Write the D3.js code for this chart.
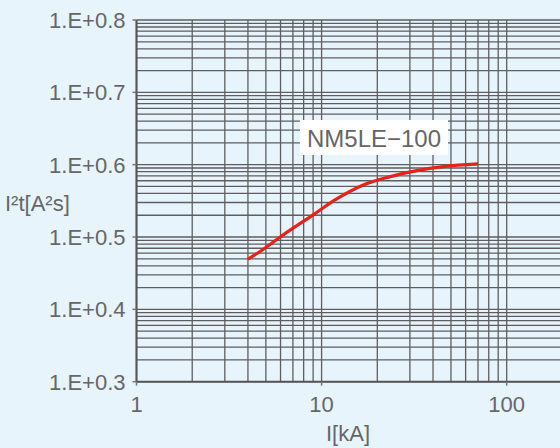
<!DOCTYPE html>
<html>
<head>
<meta charset="utf-8">
<script src="https://cdn.jsdelivr.net/npm/d3@7"></script>
<style>
html,body{margin:0;padding:0;background:#e8f4fc;}
svg{display:block;}
text{font-family:"Liberation Sans",Arial,sans-serif;}
</style>
</head>
<body>
<svg id="chart" width="560" height="448"></svg>
<script>
// Data
const currentKA = [4, 4.85, 6.2, 9, 12, 16.8, 23.5, 32.7, 45.5, 70];
const i2t = [49300, 67800, 106900, 202300, 333400, 524800, 683900, 827900, 941900, 1025600];
const seriesName = "NM5LE\u2212100";
const yTickValues = [1e3, 1e4, 1e5, 1e6, 1e7, 1e8];
const yTickLabels = ["1.E+0.3", "1.E+0.4", "1.E+0.5", "1.E+0.6", "1.E+0.7", "1.E+0.8"];
const xTickValues = [1, 10, 100];
const xTickLabels = ["1", "10", "100"];
const xTitle = "I[kA]";
const yTitle = "I\u00b2t[A\u00b2s]";

(function () {
const svg = d3.select("#chart");
const W = 560, H = 448;
svg.append("rect").attr("width", W).attr("height", H).attr("fill", "#e8f4fc");

const mLeft = 136.5, mRight = 562.4, mTop = 20, mBottom = 381.7;
const x = d3.scaleLog().domain([1, 200]).range([mLeft, mRight]);
const y = d3.scaleLog().domain([1e3, 1e8]).range([mBottom, mTop]);

const gridColor = "#5e5e5e";
const textColor = "#666666";

// vertical grid
const xGrid = [];
for (let p = 0; p <= 2; p++) for (let k = 1; k <= 9; k++) { const v = k * Math.pow(10, p); if (v <= 200) xGrid.push(v); }
svg.append("g").selectAll("line").data(xGrid).join("line")
  .attr("x1", d => x(d)).attr("x2", d => x(d))
  .attr("y1", mTop).attr("y2", mBottom)
  .attr("stroke", gridColor).attr("stroke-width", 1.3);

// horizontal grid
const yGrid = [];
for (let p = 3; p <= 8; p++) for (let k = 1; k <= 9; k++) { const v = k * Math.pow(10, p); if (v <= 1e8) yGrid.push(v); }
svg.append("g").selectAll("line").data(yGrid).join("line")
  .attr("x1", mLeft).attr("x2", W)
  .attr("y1", d => y(d)).attr("y2", d => y(d))
  .attr("stroke", gridColor).attr("stroke-width", 1.3);

// axis lines
svg.append("line").attr("x1", mLeft).attr("x2", mLeft).attr("y1", mTop).attr("y2", mBottom)
  .attr("stroke", "#555").attr("stroke-width", 2);
svg.append("line").attr("x1", mLeft).attr("x2", W).attr("y1", mBottom).attr("y2", mBottom)
  .attr("stroke", "#555").attr("stroke-width", 2);

// y ticks and labels
const yg = svg.append("g");
yg.selectAll("line").data(yTickValues).join("line")
  .attr("x1", mLeft - 4).attr("x2", mLeft)
  .attr("y1", d => y(d)).attr("y2", d => y(d))
  .attr("stroke", "#777").attr("stroke-width", 1.5);
yg.selectAll("text").data(yTickValues).join("text")
  .attr("x", mLeft - 11).attr("y", d => y(d))
  .attr("dy", "0.36em")
  .attr("text-anchor", "end").attr("font-size", 22).attr("fill", textColor)
  .text((d, i) => yTickLabels[i]);

// x ticks and labels
const xg = svg.append("g");
xg.selectAll("line").data(xTickValues).join("line")
  .attr("x1", d => x(d)).attr("x2", d => x(d))
  .attr("y1", mBottom).attr("y2", mBottom + 4)
  .attr("stroke", "#777").attr("stroke-width", 1.5);
xg.selectAll("text").data(xTickValues).join("text")
  .attr("x", d => x(d)).attr("y", 412)
  .attr("text-anchor", "middle").attr("font-size", 22).attr("fill", textColor)
  .text((d, i) => xTickLabels[i]);

// axis titles
svg.append("text").attr("x", 348).attr("y", 441).attr("text-anchor", "middle")
  .attr("font-size", 22).attr("fill", textColor).text(xTitle);
svg.append("text").attr("x", 5).attr("y", 211).attr("text-anchor", "start")
  .attr("font-size", 22).attr("fill", textColor).text(yTitle);

// curve
const pts = currentKA.map((c, i) => [c, i2t[i]]);
const line = d3.line().x(d => x(d[0])).y(d => y(d[1])).curve(d3.curveMonotoneX);
svg.append("path").datum(pts).attr("d", line)
  .attr("fill", "none").attr("stroke", "#e8221b").attr("stroke-width", 3.2)
  .attr("stroke-linecap", "butt");

// label box
const lbl = svg.append("g");
lbl.append("rect").attr("x", 300).attr("y", 120).attr("width", 148).attr("height", 35)
  .attr("fill", "#ffffff");
lbl.append("text").attr("x", 374).attr("y", 146.5).attr("text-anchor", "middle")
  .attr("font-size", 24).attr("fill", textColor).text(seriesName);
})();
</script>
</body>
</html>
